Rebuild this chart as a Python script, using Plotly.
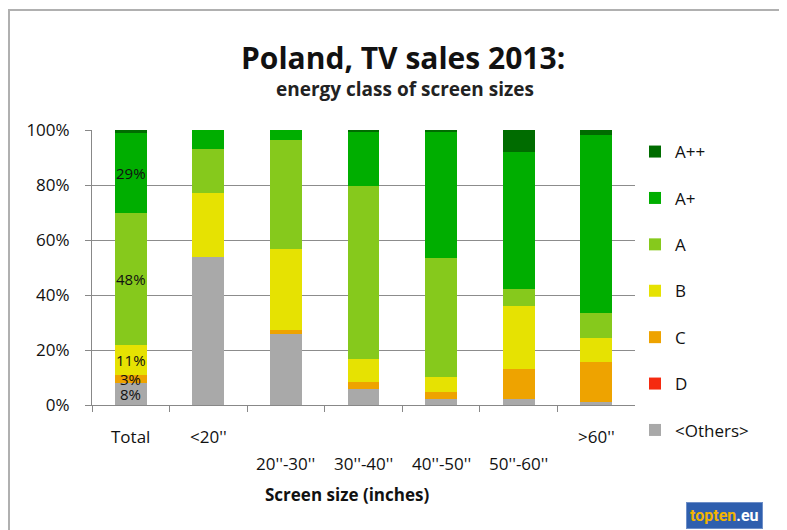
import plotly.graph_objects as go

categories = ["Total", "<20\"", "20''-30''", "30''-40''", "40''-50''", "50''-60''", ">60\""]
tick_labels = ["Total", "&lt;20''", "20''-30''", "30''-40''", "40''-50''", "50''-60''", "&gt;60''"]
tick_rows = [0, 0, 1, 1, 1, 1, 0]

others = [8, 54, 25.7, 6, 2.1, 2.1, 1.2]
class_d = [0, 0, 0, 0, 0, 0, 0]
class_c = [3, 0, 1.5, 2.5, 2.7, 10.9, 14.6]
class_b = [11, 23, 29.7, 8.1, 5.3, 23.1, 8.4]
class_a = [48, 16, 39.4, 63, 43.5, 6, 9.1]
class_ap = [29, 7, 3.6, 19.8, 45.8, 49.8, 64.9]
class_app = [1, 0, 0, 0.6, 0.6, 8.1, 1.8]

series = [
    ("&lt;Others&gt;", others, "#a9a9a9"),
    ("D", class_d, "#f52a10"),
    ("C", class_c, "#eea300"),
    ("B", class_b, "#e6e202"),
    ("A", class_a, "#86c91c"),
    ("A+", class_ap, "#00ae00"),
    ("A++", class_app, "#006c00"),
]
total_labels = ["8%", "", "3%", "11%", "48%", "29%", ""]

FONT = "Open Sans"
OFF = 8  # page body margin
W, H = 787 - OFF, 530 - OFF
PL, PR, PT, PB = 92, 635, 130, 405  # target plot area in screenshot pixels
pw, ph = PR - PL, PB - PT

def px_x(p):
    return (p - PL) / pw

def px_y(p):
    return (PB - p) / ph

fig = go.Figure()
n = len(series)
for i, (name, vals, col) in enumerate(series):
    fig.add_trace(go.Bar(
        x=categories, y=vals, name=name, marker=dict(color=col, line=dict(width=0)),
        legendgroup=name, legendrank=n - i, width=0.41,
    ))

# data labels on Total bar
cum = 0
for (name, vals, col), lab in zip(series, total_labels):
    v = vals[0]
    if lab:
        fig.add_annotation(x=categories[0], y=cum + v / 2, text=lab, showarrow=False,
                           font=dict(size=15, color="#111111", family=FONT), xref="x", yref="y")
    cum += v

# staggered category labels
for cat, lab, row in zip(categories, tick_labels, tick_rows):
    fig.add_annotation(x=cat, xref="x", yref="paper", y=px_y(436 + 27 * row), yanchor="middle",
                       text=lab, showarrow=False, font=dict(size=17, family=FONT, color="#111111"))

fig.update_layout(
    barmode="stack",
    width=W, height=H,
    margin=dict(l=PL - OFF, r=W + OFF - PR, t=PT - OFF, b=H + OFF - PB),
    paper_bgcolor="white", plot_bgcolor="white",
    font=dict(family=FONT, color="#111111", size=15),
    showlegend=True,
    legend=dict(x=px_x(635), xanchor="left", y=px_y(134), yanchor="top",
                traceorder="grouped", tracegroupgap=21.3, maxheight=500,
                font=dict(size=17, family=FONT), itemwidth=30),
)
fig.update_xaxes(
    type="category", showticklabels=False,
    showline=True, linecolor="#888888", linewidth=1,
    ticks="outside", tickson="boundaries", ticklen=6, tickcolor="#888888",
)
fig.update_yaxes(
    range=[0, 100], tickvals=[0, 20, 40, 60, 80, 100], ticktext=["0%", "20%", "40%", "60%", "80%", "100%"],
    showgrid=True, gridcolor="#8c8c8c", gridwidth=1,
    showline=True, linecolor="#888888", linewidth=1,
    ticks="outside", ticklen=6, tickcolor="#888888", ticklabelstandoff=12,
    tickfont=dict(size=17, family=FONT), zeroline=False,
)

fig.add_annotation(xref="paper", yref="paper", x=px_x(347), y=px_y(495), yanchor="middle",
                   text="<b>Screen size (inches)</b>", showarrow=False,
                   font=dict(size=17, family=FONT, color="#111111"))
fig.add_annotation(xref="paper", yref="paper", x=px_x(403), y=px_y(57), yanchor="middle",
                   text="<b>Poland, TV sales 2013:</b>", showarrow=False,
                   font=dict(size=30, family=FONT, color="#111111"))
fig.add_annotation(xref="paper", yref="paper", x=px_x(405), y=px_y(89), yanchor="middle",
                   text="<b>energy class of screen sizes</b>", showarrow=False,
                   font=dict(size=19, family=FONT, color="#222222"))

# frame
fig.add_shape(type="rect", xref="paper", yref="paper",
              x0=px_x(9), x1=px_x(800), y0=px_y(545), y1=px_y(10),
              line=dict(color="#b0b0b0", width=2), fillcolor="rgba(0,0,0,0)", layer="below")

# logo
fig.add_annotation(xref="paper", yref="paper", x=px_x(686), y=px_y(502),
                   xanchor="left", yanchor="top", showarrow=False,
                   text="<b><span style='color:#f2b400'>topten</span><span style='color:white'>.eu</span></b>",
                   bgcolor="#2f5fae", bordercolor="#6e8fc8", borderwidth=1, borderpad=3,
                   font=dict(size=16, family="Roboto"))

fig.write_html("out.html")
